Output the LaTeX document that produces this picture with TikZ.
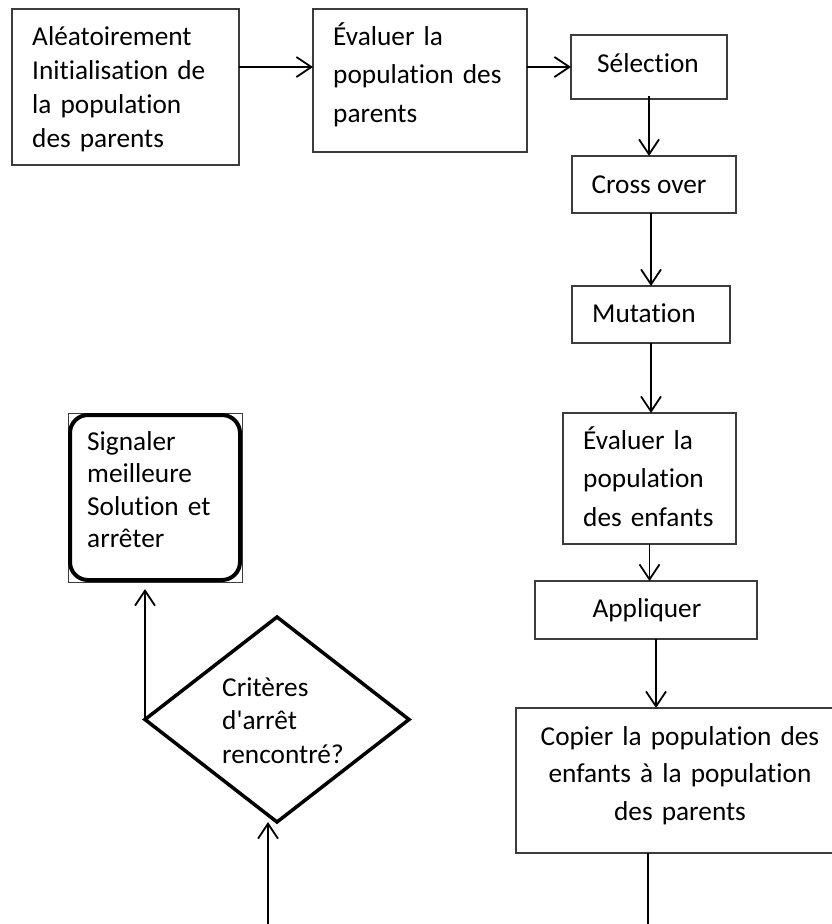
\documentclass[tikz,border=0pt]{standalone}
\usepackage{fontspec}
\setmainfont{Carlito}[Ligatures={NoCommon,TeXOff}]
\usetikzlibrary{arrows.meta,shapes.geometric,calc}
\definecolor{boxgray}{RGB}{60,60,60}
\begin{document}
\begin{tikzpicture}[x=1pt,y=-1pt,
  box/.style={draw=boxgray, line width=1.1pt, inner sep=0pt, outer sep=0pt},
  txt/.style={inner sep=0pt, anchor=base west, align=left, text=black},
  ctxt/.style={inner sep=0pt, anchor=base, align=center, text=black},
  arr/.style={line width=1.8pt, -{Straight Barb[length=15pt,width=20pt]}},
  plain/.style={line width=1.8pt},
  fs/.style={font=\fontsize{27.3}{#1}\selectfont}]
\useasboundingbox (0,0) rectangle (832,924);
\clip (0,0) rectangle (832,924);
% boxes
\node[box, minimum width=227pt, minimum height=156pt] (b1) at (125.5,87) {};
\node[box, minimum width=214pt, minimum height=143pt] (b2) at (420,80.5) {};
\node[box, minimum width=156pt, minimum height=64pt] (sel) at (649,67) {};
\node[box, minimum width=164pt, minimum height=57pt] (cross) at (654,184.5) {};
\node[box, minimum width=158pt, minimum height=57pt] (mut) at (651,314.5) {};
\node[box, minimum width=173pt, minimum height=131pt] (evale) at (649.5,478.5) {};
\node[box, minimum width=222pt, minimum height=58pt] (app) at (646,610) {};
\node[box, minimum width=328pt, minimum height=145pt] (copy) at (680,780.5) {};
\node[box, line width=0.8pt, minimum width=174pt, minimum height=169pt] (sig) at (155,497.5) {};
\draw[line width=4pt, rounded corners=18pt]
  ([shift={(2,2)}]sig.north west) rectangle ([shift={(-2,-2)}]sig.south east);
\node[draw, diamond, line width=3.5pt, inner sep=0pt, outer sep=0pt,
  minimum width=264pt, minimum height=205pt] (dia) at (277,719.5) {};
% texts
\node[txt, fs=34, text width=220pt] (t1) at (32,45)
  {Aléatoirement\\Initialisation de\\la population\\des parents};
\node[txt, fs=38.5, text width=200pt] (t2) at (333,45)
  {Évaluer la\\population des\\parents};
\node[ctxt, fs=34] (t3) at (648,72) {Sélection};
\node[ctxt, fs=34] (t4) at (649,193) {Cross over};
\node[txt, fs=34] (t5) at (592,322) {Mutation};
\node[txt, fs=38.5, text width=170pt] (t6) at (583,449)
  {Évaluer la\\population\\des enfants};
\node[ctxt, fs=37.5] (t7) at (647,617) {Appliquer};
\node[ctxt, fs=37.5, text width=320pt] (t8) at (680,745)
  {Copier la population des\\enfants à la population\\des parents};
\node[txt, fs=32.5, text width=160pt] (t9) at (87,450)
  {Signaler\\meilleure\\Solution et\\arrêter};
\node[txt, fs=33.5, text width=150pt] (t10) at (222,696)
  {Critères\\d'arrêt\\rencontré?};
% connectors
\coordinate (r1) at (0,67);
\coordinate (c2) at (656,0);
\coordinate (c3) at (648,924);
\coordinate (in) at (268,924);
\draw[arr] (b1.east |- r1) -- (b2.west |- r1);
\draw[arr] (b2.east |- sel.west) -- (sel.west);
\draw[arr] ([yshift=3pt]sel.south) -- (sel.south |- cross.north);
\draw[arr] (mut.north |- cross.south) -- (mut.north);
\draw[arr] (mut.south) -- (mut.south |- evale.north);
\draw[arr] (evale.south) -- (evale.south |- app.north);
\draw[arr] (c2 |- app.south) -- (c2 |- copy.north);
\draw[plain] (c3 |- copy.south) -- (c3);
\draw[arr] (in) -- (in |- dia.south);
\draw[arr, shorten >=7pt] (dia.west) -- (dia.west |- sig.south);
\end{tikzpicture}
\end{document}
